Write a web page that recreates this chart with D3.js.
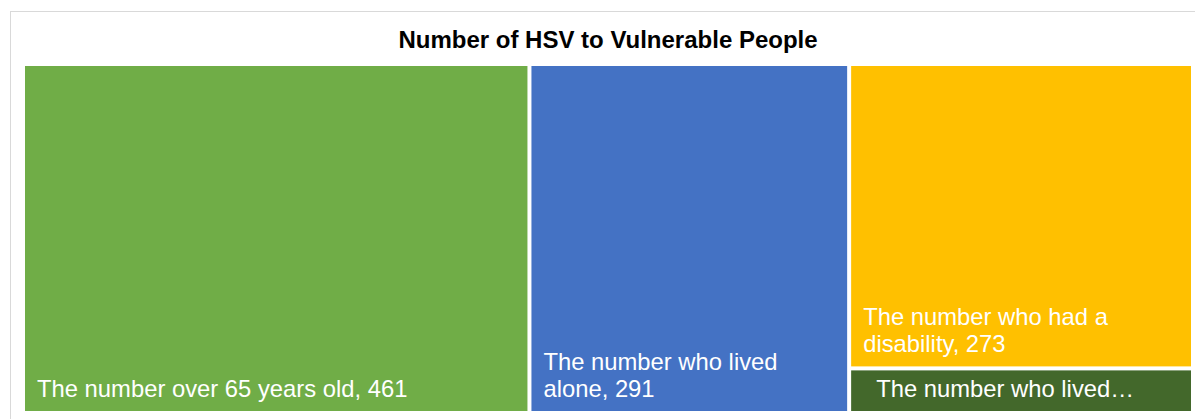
<!DOCTYPE html>
<html>
<head>
<meta charset="utf-8">
<script src="https://cdn.jsdelivr.net/npm/d3@7"></script>
<style>
  html, body { margin: 0; padding: 0; background: #fff; }
  svg { display: block; font-family: "Liberation Sans", Arial, sans-serif; }
</style>
</head>
<body>
<div id="viz"></div>
<script>
// datos
const categories = [
  "The number over 65 years old",
  "The number who lived alone",
  "The number who had a disability",
  "The number who lived with family"
];
const values = [461, 291, 273, 40];
const colors = ["#70AD47", "#4472C4", "#FFC000", "#43682B"];
const title = "Number of HSV to Vulnerable People";

const W = 1195, H = 419;
const area = {left: 25, top: 66, width: 1166, height: 345};
const fontSize = 23.8, lineH = 27, pad = 12, cutPad = 25;

const svg = d3.select('#viz').append('svg')
  .attr('width', W)
  .attr('height', H);

// marco del gráfico
svg.append('rect')
  .attr('x', 10.5).attr('y', 11.5)
  .attr('width', W).attr('height', H)
  .attr('fill', '#fff')
  .attr('stroke', '#d9d9d9')
  .attr('stroke-width', 1);

svg.append('text')
  .attr('x', 608).attr('y', 48)
  .attr('text-anchor', 'middle')
  .attr('font-size', 24)
  .attr('font-weight', 'bold')
  .attr('fill', '#000')
  .text(title);

const root = d3.hierarchy({children: categories.map((c, i) => ({name: c, value: values[i], color: colors[i]}))})
  .sum(d => d.value || 0)
  .sort((a, b) => b.value - a.value);

d3.treemap()
  .tile(d3.treemapSquarify.ratio(1))
  .size([area.width, area.height])
  .paddingInner(4)(root);

const g = svg.append('g')
  .attr('transform', `translate(${area.left},${area.top})`);

const cell = g.selectAll('g.cell')
  .data(root.leaves())
  .join('g')
  .attr('class', 'cell');

cell.append('rect')
  .attr('x', d => d.x0)
  .attr('y', d => d.y0)
  .attr('width', d => d.x1 - d.x0)
  .attr('height', d => d.y1 - d.y0)
  .attr('fill', d => d.data.color);

// medir texto para cortar líneas
const measurer = svg.append('text')
  .attr('font-size', fontSize)
  .attr('visibility', 'hidden');
const textWidth = s => { measurer.text(s); return measurer.node().getComputedTextLength(); };

function wrapLabel(label, maxW) {
  const words = label.split(' ');
  const lines = [];
  let cur = '';
  words.forEach(w => {
    const test = cur ? cur + ' ' + w : w;
    if (textWidth(test) <= maxW || !cur) cur = test;
    else { lines.push(cur); cur = w; }
  });
  if (cur) lines.push(cur);
  return lines;
}

cell.each(function(d) {
  const w = d.x1 - d.x0, h = d.y1 - d.y0;
  const label = `${d.data.name}, ${d.data.value}`;
  const maxLines = Math.max(1, Math.floor((h - 8) / lineH));
  let lines = wrapLabel(label, w - 2 * pad);
  let indent = pad;
  if (lines.length > maxLines) {
    // no cabe: cortar con puntos suspensivos y más margen
    indent = cutPad;
    lines = wrapLabel(label, w - 2 * cutPad - textWidth('\u2026')).slice(0, maxLines);
    lines[maxLines - 1] += '\u2026';
  }
  const n = lines.length;
  const t = d3.select(this).append('text')
    .attr('font-size', fontSize)
    .attr('fill', '#fff');
  lines.forEach((ln, i) => {
    t.append('tspan')
      .attr('x', d.x0 + indent)
      .attr('y', d.y1 - 14 - (n - 1 - i) * lineH)
      .text(ln);
  });
});

measurer.remove();
</script>
</body>
</html>
